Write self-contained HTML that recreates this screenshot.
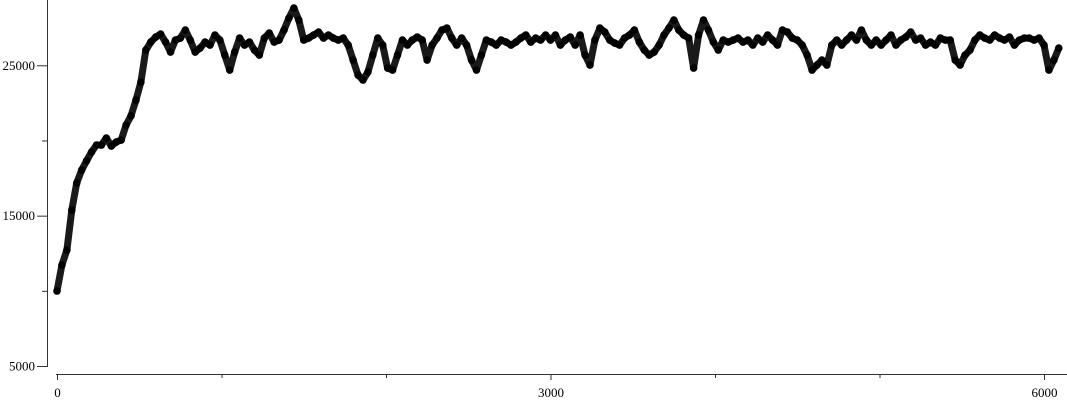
<!DOCTYPE html>
<html><head><meta charset="utf-8"><style>
html,body{margin:0;padding:0;background:#fff;}
svg{display:block;}
text{font-family:"Liberation Serif",serif;font-size:13px;fill:#000;}
</style></head><body>
<svg id="chart" width="1067" height="400" viewBox="0 0 1067 400"></svg>
<script>
const yVals=[9988,11717,12714,15374,17170,18034,18649,19231,19697,19697,20162,19630,19896,20029,21027,21642,22689,23886,26014,26546,26879,27078,26546,25881,26679,26812,27344,26679,25881,26147,26546,26346,27012,26679,25681,24684,25881,26812,26346,26546,26014,25681,26812,27144,26546,26679,27344,28142,28807,28009,26679,26812,27012,27211,26812,27012,26812,26679,26812,26346,25349,24352,24019,24551,25681,26812,26346,24817,24684,25681,26679,26346,26679,26879,26679,25349,26346,26812,27344,27477,26812,26346,26812,26346,25349,24684,25681,26679,26546,26346,26679,26546,26346,26546,26812,27012,26546,26812,26679,27012,26679,27012,26346,26679,26879,26346,27012,25681,25017,26679,27477,27211,26679,26479,26346,26812,27012,27344,26546,26014,25681,25881,26346,27012,27477,28009,27344,27012,26812,24817,27012,28009,27344,26546,26014,26679,26546,26679,26812,26546,26679,26346,26812,26546,27012,26679,26346,27344,27211,26812,26679,26346,25681,24684,25017,25349,25017,26346,26679,26346,26679,27012,26679,27344,26679,26346,26679,26346,26679,27012,26346,26679,26879,27211,26679,26812,26346,26546,26346,26812,26679,26679,25349,25017,25681,26014,26679,27012,26812,26679,27012,26812,26679,26879,26346,26679,26812,26812,26679,26812,26346,24684,25349,26147];
const xStepUnits=30;
const xVals=yVals.map((_,i)=>i*xStepUnits);
const yTicks=[5000,15000,25000];
const yMinor=[10000,20000];
const xTicks=[0,3000,6000];
const xMinor=[1000,2000,4000,5000];

const NS="http://www.w3.org/2000/svg";
const svg=document.getElementById('chart');
const X=v=>57+v*0.16450;
const Y=v=>366-(v-5000)*0.015035;
function mk(tag,attrs,parent){const e=document.createElementNS(NS,tag);for(const k in attrs)e.setAttribute(k,attrs[k]);(parent||svg).appendChild(e);return e;}

const yAxis=mk('line',{x1:47.5,y1:0,x2:47.5,y2:367,stroke:'#333','stroke-width':1});


const xAxis=mk('line',{x1:56,y1:374.5,x2:1067,y2:374.5,stroke:'#333','stroke-width':1});



yTicks.forEach(v=>{
  const t=mk('line',{x1:37,x2:47.5,y1:Y(v)+0.5,y2:Y(v)+0.5,stroke:'#333'});
  
  
  const l=mk('text',{x:35,y:Y(v)+4.5,'text-anchor':'end'});
  l.textContent=v;
  
  
});
yMinor.forEach(v=>{
  const t=mk('line',{x1:42,x2:47.5,y1:Y(v)+0.5,y2:Y(v)+0.5,stroke:'#333'});
  
  
});
xTicks.forEach(v=>{
  const t=mk('line',{x1:X(v)+0.5,x2:X(v)+0.5,y1:374.5,y2:380,stroke:'#333'});
  
  
  const l=mk('text',{x:X(v)+0.5,y:397,'text-anchor':'middle'});
  l.textContent=v;
  
  
});
xMinor.forEach(v=>{
  const t=mk('line',{x1:X(v)+0.5,x2:X(v)+0.5,y1:374.5,y2:378,stroke:'#333'});
  
  
});

const pts=xVals.map((x,i)=>X(x).toFixed(1)+','+Y(yVals[i]).toFixed(1)).join(' ');
const band=mk('polyline',{points:pts,fill:'none',stroke:'#1a1a1a','stroke-width':7,'stroke-linejoin':'round','stroke-linecap':'round'});


const g=mk('g',{});


xVals.forEach((x,i)=>{
  const c=mk('circle',{cx:X(x),cy:Y(yVals[i]),r:3.8,fill:'#000'},g);
  
  
});
</script>
</body></html>
